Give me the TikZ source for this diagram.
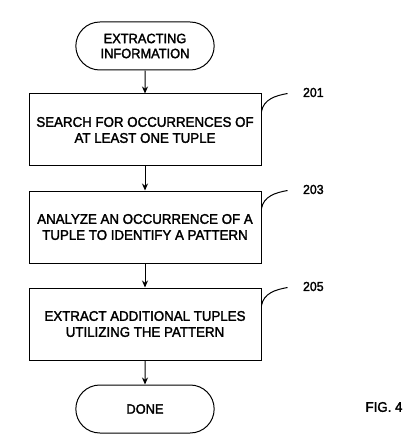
\documentclass[tikz,border=0pt]{standalone}
\usepackage{fontspec}
\setmainfont{Liberation Sans}[FakeStretch=0.95, FakeBold=2]
\usetikzlibrary{shapes.misc,arrows.meta,positioning}

\begin{document}
\begin{tikzpicture}[
    x=1pt, y=1pt,
    node distance=24pt,
    terminal/.style={rounded rectangle, draw=black, line width=1pt, minimum width=145pt, minimum height=48pt, align=center, font=\fontsize{13.5}{15}\selectfont},
    stepbox/.style={rectangle, draw=black, line width=1pt, minimum width=232pt, minimum height=72pt, align=center, font=\fontsize{14}{16}\selectfont},
    arrow/.style={-{Stealth[length=7pt,width=6pt]}, line width=1pt},
    leader/.style={line width=1pt},
    refnum/.style={font=\fontsize{13}{14}\selectfont}
]
\useasboundingbox (0,0) rectangle (417,-446);

% Flow
\node[terminal] (start) at (145,-46) {EXTRACTING\\INFORMATION};
\node[stepbox, below=23pt of start] (search) {SEARCH FOR OCCURRENCES OF\\AT LEAST ONE TUPLE};
\node[stepbox, below=of search] (analyze) {ANALYZE AN OCCURRENCE OF A\\TUPLE TO IDENTIFY A PATTERN};
\node[stepbox, below=of analyze] (extract) {EXTRACT ADDITIONAL TUPLES\\UTILIZING THE PATTERN};
\node[terminal, below=of extract] (done) {DONE};

\draw[arrow] (start) -- (search);
\draw[arrow] (search) -- (analyze);
\draw[arrow] (analyze) -- (extract);
\draw[arrow] (extract) -- (done);

% Reference numerals
\node[refnum, right=38pt of search.north east, anchor=west, yshift=1pt] (r201) {201};
\node[refnum, right=38pt of analyze.north east, anchor=west, yshift=1pt] (r203) {203};
\node[refnum, right=38pt of extract.north east, anchor=west, yshift=1pt] (r205) {205};
\draw[leader] ([yshift=-18pt]search.north east) to[out=80, in=190] ([xshift=-12pt,yshift=-1pt]r201.west);
\draw[leader] ([yshift=-18pt]analyze.north east) to[out=80, in=190] ([xshift=-12pt,yshift=-1pt]r203.west);
\draw[leader] ([yshift=-18pt]extract.north east) to[out=80, in=190] ([xshift=-12pt,yshift=-1pt]r205.west);

\node[refnum, font=\fontsize{14}{16}\selectfont] (fig) at (384,-407) {FIG. 4};

\end{tikzpicture}
\end{document}
